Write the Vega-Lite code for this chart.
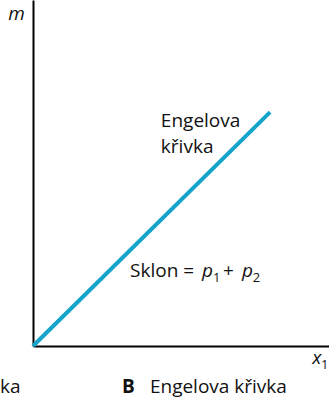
{
  "$schema": "https://vega.github.io/schema/vega-lite/v6.json",
  "width": 296,
  "height": 346,
  "autosize": {"type": "none"},
  "padding": {"left": 33, "top": 0, "right": 0, "bottom": 52},
  "background": "white",
  "config": {
    "view": {"stroke": null},
    "text": {"font": "Open Sans", "fontSize": 19, "align": "left", "baseline": "alphabetic", "color": "#111"}
  },
  "datasets": {
    "curve": [{"x": 0, "y": 0}, {"x": 80.1, "y": 67.6}],
    "plain": [
      {"label": "Engelova", "x": 43.2, "y": 63.3},
      {"label": "křivka", "x": 43.2, "y": 55.8},
      {"label": "Sklon =", "x": 32.8, "y": 19.9},
      {"label": "+", "x": 64.2, "y": 19.9},
      {"label": "Engelova křivka", "x": 39.5, "y": -13.6},
      {"label": "ka", "x": -11.15, "y": -13.6}
    ],
    "italic": [
      {"label": "p", "x": 57.1, "y": 19.9},
      {"label": "p", "x": 70.6, "y": 19.9},
      {"label": "m", "x": -8.4, "y": 94.2},
      {"label": "x", "x": 94.3, "y": -5.2}
    ],
    "sub": [
      {"label": "1", "x": 60.8, "y": 18.4},
      {"label": "2", "x": 74.2, "y": 18.4},
      {"label": "1", "x": 97.3, "y": -6.6}
    ],
    "bold": [{"label": "B", "x": 30.1, "y": -13.6}]
  },
  "layer": [
    {
      "data": {"name": "curve"},
      "mark": {"type": "line", "color": "#14a3cb", "strokeWidth": 4},
      "encoding": {
        "x": {"field": "x", "type": "quantitative", "scale": {"domain": [0, 100], "nice": false, "zero": false},
          "axis": {"title": null, "labels": false, "ticks": false, "grid": false, "domain": true, "domainColor": "#000", "domainWidth": 2}},
        "y": {"field": "y", "type": "quantitative", "scale": {"domain": [0, 100], "nice": false, "zero": false},
          "axis": {"title": null, "labels": false, "ticks": false, "grid": false, "domain": true, "domainColor": "#000", "domainWidth": 2}}
      }
    },
    {
      "data": {"name": "plain"},
      "mark": {"type": "text"},
      "encoding": {
        "x": {"field": "x", "type": "quantitative"},
        "y": {"field": "y", "type": "quantitative"},
        "text": {"field": "label"}
      }
    },
    {
      "data": {"name": "italic"},
      "mark": {"type": "text", "fontStyle": "italic"},
      "encoding": {
        "x": {"field": "x", "type": "quantitative"},
        "y": {"field": "y", "type": "quantitative"},
        "text": {"field": "label"}
      }
    },
    {
      "data": {"name": "sub"},
      "mark": {"type": "text", "fontSize": 13},
      "encoding": {
        "x": {"field": "x", "type": "quantitative"},
        "y": {"field": "y", "type": "quantitative"},
        "text": {"field": "label"}
      }
    },
    {
      "data": {"name": "bold"},
      "mark": {"type": "text", "fontWeight": "bold"},
      "encoding": {
        "x": {"field": "x", "type": "quantitative"},
        "y": {"field": "y", "type": "quantitative"},
        "text": {"field": "label"}
      }
    }
  ]
}
